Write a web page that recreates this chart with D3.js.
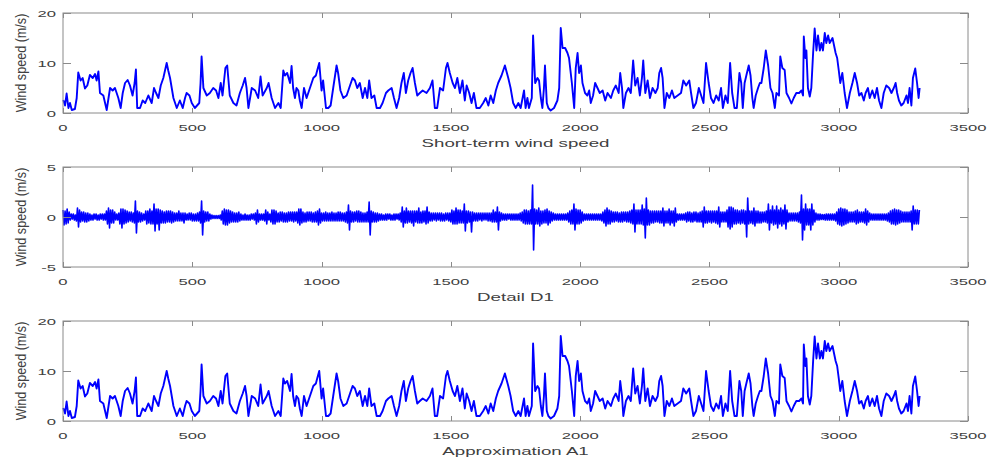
<!DOCTYPE html>
<html lang="en">
<head>
<meta charset="UTF-8">
<title>Short-term wind speed decomposition</title>
<script src="https://d3js.org/d3.v7.min.js"></script>
<style>
  body { margin: 0; background: #fff; font-family: "Liberation Sans", Arial, sans-serif; }
  svg { display: block; }
  .tick-label { font-size: 9.8px; fill: #404040; }
  .axis-title { font-size: 11px; fill: #404040; }
  .y-title { font-size: 12.6px; fill: #404040; }
</style>
</head>
<body>
<div id="chart"></div>
<script>
// ---- data ----
const xTicks = [0, 500, 1000, 1500, 2000, 2500, 3000, 3500];
const speedTicks = [0, 10, 20];
const detailTicks = [-5, 0, 5];

// short-term wind speed, [sample, m/s]
const windSpeed = [
  [1,2.6],[8,1.5],[14,3.9],[21,1.0],[27,2.0],[34,0.6],[46,0.8],[53,3.0],[59,8.1],[68,6.5],
  [76,7.0],[85,4.9],[94,5.5],[104,7.6],[115,7.0],[124,7.8],[130,6.5],[137,8.3],[143,4.0],[156,3.5],
  [169,0.6],[182,5.0],[192,4.5],[201,5.0],[214,3.0],[223,1.0],[231,4.0],[240,6.0],[250,6.6],[259,5.5],
  [269,3.5],[277,6.0],[282,8.7],[287,1.0],[298,1.0],[308,2.5],[318,2.0],[330,3.5],[343,2.0],[352,5.0],
  [360,4.0],[369,3.0],[378,5.5],[388,7.0],[401,10.0],[407,8.5],[414,7.0],[427,3.0],[440,1.0],[452,2.5],
  [463,1.0],[472,3.0],[478,4.0],[489,3.5],[498,2.0],[510,1.0],[527,2.0],[532,6.0],[536,11.3],[543,5.0],
  [556,3.5],[568,4.0],[581,5.0],[592,4.5],[601,3.0],[610,6.0],[617,3.5],[628,9.0],[635,9.5],[645,3.5],
  [659,2.0],[671,1.5],[684,4.0],[695,5.5],[704,7.0],[710,5.0],[717,1.0],[730,5.0],[743,4.5],[755,3.0],
  [764,7.3],[772,3.5],[788,5.0],[795,6.0],[807,3.0],[820,1.0],[833,2.0],[842,1.0],[852,8.5],[858,7.5],
  [867,8.0],[878,6.0],[884,9.4],[890,5.0],[897,3.0],[903,5.0],[910,4.5],[916,2.5],[923,1.0],[932,5.0],
  [942,3.0],[955,5.0],[968,7.0],[978,7.5],[983,8.5],[991,10.0],[1000,4.5],[1006,6.5],[1017,1.0],[1026,1.0],
  [1035,1.5],[1045,5.0],[1058,9.5],[1064,8.0],[1073,4.5],[1084,3.0],[1097,3.5],[1110,5.5],[1120,7.0],[1129,6.5],
  [1138,5.0],[1148,6.0],[1159,3.0],[1168,5.0],[1177,3.0],[1184,6.5],[1193,3.0],[1204,3.5],[1213,1.0],[1226,1.0],
  [1236,2.0],[1249,4.0],[1258,4.5],[1271,5.0],[1280,3.0],[1290,1.0],[1300,3.0],[1309,6.0],[1318,8.0],[1326,4.0],
  [1335,6.5],[1344,8.0],[1352,9.0],[1361,6.0],[1370,3.5],[1380,4.0],[1391,4.5],[1406,4.0],[1419,5.0],[1429,6.5],
  [1438,1.0],[1447,1.0],[1458,5.0],[1470,4.5],[1481,9.0],[1487,10.0],[1496,8.0],[1507,6.0],[1516,5.0],[1525,7.0],
  [1535,4.0],[1545,6.5],[1554,2.5],[1561,5.5],[1571,4.0],[1580,2.0],[1589,4.0],[1599,1.0],[1612,1.0],[1625,2.0],
  [1635,3.0],[1645,1.5],[1654,3.5],[1664,2.0],[1674,4.5],[1683,6.0],[1696,7.5],[1709,9.5],[1722,7.0],[1731,5.0],
  [1741,2.0],[1751,1.0],[1761,2.0],[1770,1.0],[1783,4.5],[1789,1.0],[1796,3.0],[1802,1.0],[1813,3.0],[1818,15.5],
  [1826,6.0],[1835,7.0],[1841,6.5],[1848,3.0],[1854,1.0],[1860,5.0],[1864,9.5],[1871,2.0],[1877,1.0],[1886,0.5],
  [1899,1.0],[1912,2.5],[1919,5.0],[1925,17.0],[1932,13.0],[1942,13.0],[1951,12.0],[1957,11.0],[1968,6.0],[1977,1.0],
  [1983,9.0],[1990,12.0],[1996,8.0],[2003,9.5],[2009,6.0],[2019,4.0],[2028,3.5],[2035,4.5],[2041,2.0],[2050,3.5],
  [2058,6.0],[2067,5.0],[2076,4.0],[2087,4.5],[2097,2.5],[2106,4.0],[2119,3.0],[2128,4.5],[2138,5.5],[2149,4.0],
  [2155,8.0],[2162,5.0],[2167,1.0],[2177,4.0],[2187,5.0],[2196,4.0],[2205,10.5],[2213,5.5],[2222,7.0],[2231,3.5],
  [2239,7.0],[2244,10.5],[2252,4.0],[2261,6.5],[2270,3.0],[2280,5.0],[2291,4.0],[2300,5.0],[2306,8.0],[2313,9.0],
  [2319,7.0],[2326,1.0],[2335,4.0],[2345,3.0],[2355,4.5],[2364,3.0],[2377,3.5],[2390,4.0],[2399,6.5],[2410,5.5],
  [2422,6.5],[2429,4.0],[2438,1.0],[2448,2.0],[2459,5.0],[2468,3.5],[2477,2.0],[2487,10.0],[2497,6.0],[2506,3.0],
  [2516,2.0],[2526,3.5],[2536,2.5],[2545,5.0],[2552,1.0],[2562,3.5],[2571,2.0],[2580,10.0],[2588,4.0],[2597,1.0],
  [2606,1.0],[2616,8.0],[2623,6.0],[2629,1.0],[2636,6.0],[2645,8.0],[2652,9.5],[2659,7.5],[2666,3.0],[2671,1.0],
  [2679,3.5],[2688,5.0],[2695,6.0],[2701,6.0],[2710,9.0],[2718,12.5],[2727,9.5],[2736,5.0],[2744,4.0],[2753,1.0],
  [2759,4.0],[2769,3.5],[2774,11.3],[2782,9.0],[2791,8.6],[2798,4.0],[2808,3.0],[2817,1.9],[2826,3.0],[2836,4.0],
  [2847,4.0],[2856,4.5],[2862,3.5],[2865,15.3],[2871,11.0],[2875,12.5],[2881,5.0],[2888,3.3],[2894,5.0],[2901,12.0],
  [2907,16.9],[2914,12.5],[2920,15.5],[2927,12.5],[2933,14.0],[2939,12.5],[2946,16.0],[2952,14.0],[2959,15.5],[2965,14.0],
  [2976,15.0],[2982,13.5],[2988,12.0],[2994,11.0],[3000,8.6],[3006,6.0],[3014,8.0],[3023,4.0],[3032,1.0],[3043,4.0],
  [3053,6.0],[3062,8.0],[3071,6.0],[3079,3.5],[3088,4.0],[3097,2.5],[3104,4.0],[3113,5.0],[3120,3.0],[3130,4.5],
  [3139,3.0],[3148,5.0],[3156,2.5],[3165,1.0],[3174,4.0],[3184,5.5],[3195,5.0],[3204,4.0],[3213,5.0],[3220,6.0],
  [3226,4.0],[3233,2.5],[3242,1.5],[3251,2.0],[3262,3.5],[3268,2.0],[3274,5.0],[3281,1.5],[3287,7.0],[3296,8.9],
  [3303,6.0],[3309,3.0],[3313,5.0]
];

// detail D1, one value every 4 samples (m/s), 80 samples per row
const d1Step = 4;
const detailD1 = [
  0.7,-0.8,0.6,-0.7,0.8,-0.6,0.5,-0.3,0.3,-0.2,0.3,-0.3,0.2,-0.4,0.9,-1.0,0.7,-0.5,0.5,-0.4,
  0.5,-0.5,0.4,-0.5,0.4,-0.4,0.3,-0.3,0.2,-0.3,0.3,-0.2,0.3,-0.3,0.2,-0.3,0.3,-0.2,0.3,-0.3,
  0.3,-0.3,0.6,-0.7,0.9,-1.1,0.7,-0.6,0.7,-0.6,0.5,-0.3,0.3,-0.3,0.4,-0.7,0.8,-1.1,0.8,-0.7,
  0.7,-0.6,0.6,-0.5,0.5,-0.4,0.5,-0.5,0.4,-0.6,1.6,-1.6,0.6,-0.5,0.5,-0.5,0.4,-0.4,0.3,-0.3,
  0.6,-0.7,0.6,-0.6,0.8,-0.7,0.6,-0.7,1.3,-1.4,0.8,-0.7,0.8,-1.3,0.7,-0.6,0.6,-0.6,0.5,-0.6,
  0.6,-0.5,0.6,-0.5,0.6,-0.6,0.5,-0.5,0.4,-0.4,0.4,-0.4,0.6,-0.4,0.4,-0.4,0.4,-0.6,0.4,-0.3,
  0.3,-0.3,0.4,-0.3,0.4,-0.4,0.3,-0.4,0.3,-0.4,0.4,-0.4,0.5,-0.6,1.6,-1.8,0.6,-0.5,0.5,-0.4,
  0.5,-0.4,0.3,-0.2,0.2,-0.15,0.15,-0.15,0.15,-0.15,0.15,-0.15,0.2,-0.3,0.6,-0.7,0.8,-0.8,0.7,-0.8,
  0.7,-0.6,0.6,-0.5,0.5,-0.5,0.4,-0.5,0.4,-0.5,0.5,-0.4,0.3,-0.3,0.2,-0.3,0.3,-0.3,0.2,-0.3,
  0.2,-0.3,0.3,-0.2,0.3,-0.3,0.4,-0.7,0.7,-0.5,0.3,-0.3,0.3,-0.3,0.3,-0.4,0.7,-0.7,0.5,-0.3,
  0.3,-0.5,0.7,-0.7,0.7,-0.7,0.6,-0.5,0.4,-0.5,0.5,-0.4,0.5,-0.5,0.4,-0.5,0.4,-0.5,0.5,-0.4,
  0.5,-0.4,0.5,-0.5,0.5,-0.4,0.5,-0.6,0.8,-0.8,0.8,-0.6,0.5,-0.5,0.4,-0.5,0.5,-0.4,0.5,-0.4,
  0.5,-0.5,0.4,-0.5,0.5,-0.5,0.6,-0.8,0.8,-0.6,0.4,-0.4,0.4,-0.4,0.5,-0.4,0.4,-0.4,0.4,-0.4,
  0.5,-0.4,0.4,-0.4,0.4,-0.4,0.5,-0.4,0.5,-0.4,0.4,-0.4,0.4,-0.5,0.5,-0.6,1.2,-1.3,0.6,-0.5,
  0.5,-0.5,0.5,-0.4,0.6,-0.5,0.6,-0.5,0.5,-0.5,0.4,-0.5,0.4,-0.5,0.5,-0.5,1.5,-1.8,0.6,-0.5,
  0.5,-0.5,0.4,-0.5,0.4,-0.4,0.3,-0.3,0.3,-0.3,0.2,-0.3,0.3,-0.3,0.3,-0.2,0.3,-0.3,0.2,-0.3,
  0.3,-0.3,0.3,-0.2,0.3,-0.3,0.4,-0.5,1.0,-1.0,0.6,-0.6,0.9,-0.6,0.6,-0.5,0.6,-0.6,0.6,-0.9,
  0.6,-0.5,0.6,-0.6,0.9,-0.6,0.5,-0.6,0.6,-0.5,0.6,-0.7,1.0,-0.6,0.5,-0.4,0.4,-0.4,0.4,-0.3,
  0.4,-0.4,0.4,-0.3,0.4,-0.4,0.4,-0.4,0.3,-0.4,0.4,-0.3,0.4,-0.4,0.4,-0.5,0.7,-0.7,0.6,-0.7,
  0.9,-0.7,0.7,-0.6,0.7,-0.6,0.6,-0.6,1.3,-1.4,0.6,-0.6,0.6,-0.5,0.5,-1.5,0.5,-0.4,0.4,-0.4,
  0.4,-0.4,0.4,-0.3,0.4,-0.4,0.4,-0.3,0.4,-0.3,0.4,-0.4,0.4,-0.4,0.4,-0.5,0.7,-0.5,0.5,-0.5,
  1.0,-1.3,0.5,-0.4,0.4,-0.3,0.3,-0.3,0.3,-0.3,0.3,-0.2,0.3,-0.3,0.3,-0.3,0.3,-0.3,0.3,-0.3,
  0.3,-0.3,0.4,-0.4,0.5,-0.6,0.7,-0.7,0.7,-0.7,0.6,-0.7,0.7,-0.7,3.2,-3.3,0.8,-0.7,0.7,-0.7,
  0.9,-0.9,0.6,-0.7,0.6,-0.6,0.7,-0.6,0.8,-0.8,0.6,-0.6,0.5,-0.4,0.4,-0.3,0.3,-0.3,0.3,-0.3,
  0.3,-0.3,0.3,-0.3,0.3,-0.3,0.3,-0.3,0.4,-0.5,0.6,-0.7,0.7,-0.7,1.3,-1.3,0.8,-0.7,0.7,-0.7,
  0.7,-0.6,0.5,-0.4,0.3,-0.3,0.3,-0.3,0.3,-0.3,0.3,-0.3,0.3,-0.3,0.3,-0.3,0.3,-0.3,0.3,-0.3,
  0.3,-0.4,0.5,-0.6,0.7,-0.9,0.9,-0.7,0.7,-0.7,0.6,-0.5,0.5,-0.5,0.5,-0.4,0.5,-0.5,0.4,-0.5,
  0.5,-0.5,0.5,-0.4,0.5,-0.5,0.5,-0.5,0.6,-0.6,0.7,-0.7,1.3,-1.5,0.7,-0.7,0.7,-0.7,0.7,-0.7,
  1.2,-0.8,0.8,-2.1,1.9,-0.8,0.7,-0.8,0.6,-0.6,0.6,-0.6,0.6,-0.5,0.6,-0.5,0.6,-0.6,0.6,-0.6,
  0.9,-0.9,0.6,-0.6,0.6,-0.6,0.8,-0.8,0.6,-0.6,0.6,-0.9,0.9,-0.5,0.3,-0.3,0.3,-0.3,0.3,-0.3,
  0.3,-0.3,0.4,-0.5,0.5,-0.4,0.5,-0.5,0.4,-0.5,0.5,-0.4,0.5,-0.5,0.4,-0.5,0.5,-0.5,0.6,-1.0,
  1.0,-0.6,0.6,-0.6,0.6,-0.5,0.6,-0.6,0.6,-0.5,0.6,-0.6,0.6,-0.7,1.0,-1.0,0.5,-0.5,0.5,-0.5,
  0.5,-0.5,0.7,-1.0,1.0,-1.2,1.0,-1.0,0.9,-0.7,0.7,-0.7,0.7,-0.6,0.6,-0.7,0.7,-0.6,0.7,-0.7,
  0.6,-2.0,1.9,-0.7,0.6,-0.6,0.6,-0.7,0.9,-0.9,0.6,-0.6,0.6,-0.6,0.5,-0.6,0.5,-0.5,0.5,-0.5,
  0.6,-0.6,1.3,-1.3,0.7,-0.6,1.1,-0.8,0.7,-0.7,1.1,-1.1,0.7,-0.7,0.9,-0.9,0.7,-0.7,1.2,-1.2,
  0.7,-0.5,0.4,-0.4,0.4,-0.4,0.4,-0.4,0.4,-0.4,0.4,-0.5,0.5,-0.6,2.2,-2.3,0.8,-1.3,1.3,-0.8,
  0.8,-0.8,0.8,-1.3,1.3,-0.8,0.7,-0.5,0.4,-0.3,0.3,-0.3,0.3,-0.25,0.25,-0.25,0.25,-0.3,0.3,-0.3,
  0.3,-0.3,0.3,-0.3,0.3,-0.3,0.3,-0.4,0.5,-0.7,0.8,-0.8,0.9,-0.9,0.8,-0.8,0.8,-0.7,0.7,-0.6,
  0.5,-0.5,0.5,-0.5,0.5,-0.5,0.6,-0.7,0.7,-0.6,0.5,-0.5,0.5,-0.5,0.5,-0.6,0.8,-0.8,0.6,-0.5,
  0.4,-0.3,0.3,-0.3,0.3,-0.3,0.3,-0.3,0.3,-0.3,0.3,-0.3,0.3,-0.3,0.3,-0.3,0.3,-0.4,0.4,-0.5,
  0.6,-0.7,0.7,-0.7,0.8,-0.8,0.7,-0.7,0.7,-0.6,0.6,-0.5,0.5,-0.5,0.5,-0.5,0.5,-0.5,0.5,-0.5,
  0.6,-1.3,1.1,-0.7,0.7,-0.7,0.7,-0.7,0.7
];

// approximation A1, [sample, m/s]
const approxA1 = [
  [1,2.6],[8,1.5],[14,3.9],[21,1.0],[27,2.0],[34,0.6],[46,0.8],[53,3.0],[59,8.1],[68,6.5],
  [76,7.0],[85,4.9],[94,5.5],[104,7.6],[115,7.0],[124,7.8],[130,6.5],[137,8.3],[143,4.0],[156,3.5],
  [169,0.6],[182,5.0],[192,4.5],[201,5.0],[214,3.0],[223,1.0],[231,4.0],[240,6.0],[250,6.6],[259,5.5],
  [269,3.5],[277,6.0],[282,8.7],[287,1.0],[298,1.0],[308,2.5],[318,2.0],[330,3.5],[343,2.0],[352,5.0],
  [360,4.0],[369,3.0],[378,5.5],[388,7.0],[401,10.0],[407,8.5],[414,7.0],[427,3.0],[440,1.0],[452,2.5],
  [463,1.0],[472,3.0],[478,4.0],[489,3.5],[498,2.0],[510,1.0],[527,2.0],[532,6.0],[536,11.3],[543,5.0],
  [556,3.5],[568,4.0],[581,5.0],[592,4.5],[601,3.0],[610,6.0],[617,3.5],[628,9.0],[635,9.5],[645,3.5],
  [659,2.0],[671,1.5],[684,4.0],[695,5.5],[704,7.0],[710,5.0],[717,1.0],[730,5.0],[743,4.5],[755,3.0],
  [764,7.3],[772,3.5],[788,5.0],[795,6.0],[807,3.0],[820,1.0],[833,2.0],[842,1.0],[852,8.5],[858,7.5],
  [867,8.0],[878,6.0],[884,9.4],[890,5.0],[897,3.0],[903,5.0],[910,4.5],[916,2.5],[923,1.0],[932,5.0],
  [942,3.0],[955,5.0],[968,7.0],[978,7.5],[983,8.5],[991,10.0],[1000,4.5],[1006,6.5],[1017,1.0],[1026,1.0],
  [1035,1.5],[1045,5.0],[1058,9.5],[1064,8.0],[1073,4.5],[1084,3.0],[1097,3.5],[1110,5.5],[1120,7.0],[1129,6.5],
  [1138,5.0],[1148,6.0],[1159,3.0],[1168,5.0],[1177,3.0],[1184,6.5],[1193,3.0],[1204,3.5],[1213,1.0],[1226,1.0],
  [1236,2.0],[1249,4.0],[1258,4.5],[1271,5.0],[1280,3.0],[1290,1.0],[1300,3.0],[1309,6.0],[1318,8.0],[1326,4.0],
  [1335,6.5],[1344,8.0],[1352,9.0],[1361,6.0],[1370,3.5],[1380,4.0],[1391,4.5],[1406,4.0],[1419,5.0],[1429,6.5],
  [1438,1.0],[1447,1.0],[1458,5.0],[1470,4.5],[1481,9.0],[1487,10.0],[1496,8.0],[1507,6.0],[1516,5.0],[1525,7.0],
  [1535,4.0],[1545,6.5],[1554,2.5],[1561,5.5],[1571,4.0],[1580,2.0],[1589,4.0],[1599,1.0],[1612,1.0],[1625,2.0],
  [1635,3.0],[1645,1.5],[1654,3.5],[1664,2.0],[1674,4.5],[1683,6.0],[1696,7.5],[1709,9.5],[1722,7.0],[1731,5.0],
  [1741,2.0],[1751,1.0],[1761,2.0],[1770,1.0],[1783,4.5],[1789,1.0],[1796,3.0],[1802,1.0],[1813,3.0],[1818,15.5],
  [1826,6.0],[1835,7.0],[1841,6.5],[1848,3.0],[1854,1.0],[1860,5.0],[1864,9.5],[1871,2.0],[1877,1.0],[1886,0.5],
  [1899,1.0],[1912,2.5],[1919,5.0],[1925,17.0],[1932,13.0],[1942,13.0],[1951,12.0],[1957,11.0],[1968,6.0],[1977,1.0],
  [1983,9.0],[1990,12.0],[1996,8.0],[2003,9.5],[2009,6.0],[2019,4.0],[2028,3.5],[2035,4.5],[2041,2.0],[2050,3.5],
  [2058,6.0],[2067,5.0],[2076,4.0],[2087,4.5],[2097,2.5],[2106,4.0],[2119,3.0],[2128,4.5],[2138,5.5],[2149,4.0],
  [2155,8.0],[2162,5.0],[2167,1.0],[2177,4.0],[2187,5.0],[2196,4.0],[2205,10.5],[2213,5.5],[2222,7.0],[2231,3.5],
  [2239,7.0],[2244,10.5],[2252,4.0],[2261,6.5],[2270,3.0],[2280,5.0],[2291,4.0],[2300,5.0],[2306,8.0],[2313,9.0],
  [2319,7.0],[2326,1.0],[2335,4.0],[2345,3.0],[2355,4.5],[2364,3.0],[2377,3.5],[2390,4.0],[2399,6.5],[2410,5.5],
  [2422,6.5],[2429,4.0],[2438,1.0],[2448,2.0],[2459,5.0],[2468,3.5],[2477,2.0],[2487,10.0],[2497,6.0],[2506,3.0],
  [2516,2.0],[2526,3.5],[2536,2.5],[2545,5.0],[2552,1.0],[2562,3.5],[2571,2.0],[2580,10.0],[2588,4.0],[2597,1.0],
  [2606,1.0],[2616,8.0],[2623,6.0],[2629,1.0],[2636,6.0],[2645,8.0],[2652,9.5],[2659,7.5],[2666,3.0],[2671,1.0],
  [2679,3.5],[2688,5.0],[2695,6.0],[2701,6.0],[2710,9.0],[2718,12.5],[2727,9.5],[2736,5.0],[2744,4.0],[2753,1.0],
  [2759,4.0],[2769,3.5],[2774,11.3],[2782,9.0],[2791,8.6],[2798,4.0],[2808,3.0],[2817,1.9],[2826,3.0],[2836,4.0],
  [2847,4.0],[2856,4.5],[2862,3.5],[2865,15.3],[2871,11.0],[2875,12.5],[2881,5.0],[2888,3.3],[2894,5.0],[2901,12.0],
  [2907,16.9],[2914,12.5],[2920,15.5],[2927,12.5],[2933,14.0],[2939,12.5],[2946,16.0],[2952,14.0],[2959,15.5],[2965,14.0],
  [2976,15.0],[2982,13.5],[2988,12.0],[2994,11.0],[3000,8.6],[3006,6.0],[3014,8.0],[3023,4.0],[3032,1.0],[3043,4.0],
  [3053,6.0],[3062,8.0],[3071,6.0],[3079,3.5],[3088,4.0],[3097,2.5],[3104,4.0],[3113,5.0],[3120,3.0],[3130,4.5],
  [3139,3.0],[3148,5.0],[3156,2.5],[3165,1.0],[3174,4.0],[3184,5.5],[3195,5.0],[3204,4.0],[3213,5.0],[3220,6.0],
  [3226,4.0],[3233,2.5],[3242,1.5],[3251,2.0],[3262,3.5],[3268,2.0],[3274,5.0],[3281,1.5],[3287,7.0],[3296,8.9],
  [3303,6.0],[3309,3.0],[3313,5.0]
];

// ---- layout ----
const W = 999, H = 461;
const plotLeft = 63, plotRight = 968, plotH = 100;
const textStretch = 1.7;   // the figure is stretched sideways

const panels = [
  { top: 13,  yDomain: [0, 20], yTicks: speedTicks,  title: "Short-term wind speed", data: windSpeed, width: 1.9 },
  { top: 167, yDomain: [-5, 5], yTicks: detailTicks, title: "Detail D1",             data: detailD1.map((v, i) => [i * d1Step, v]), width: 1.6 },
  { top: 321, yDomain: [0, 20], yTicks: speedTicks,  title: "Approximation A1",      data: approxA1, width: 1.9 }
];

const svg = d3.select("#chart").append("svg")
    .attr("width", W)
    .attr("height", H);

const x = d3.scaleLinear().domain([0, 3500]).range([plotLeft, plotRight]);

function wideText(g, px, py, txt, anchor, cls) {
    g.append("text")
        .attr("class", cls)
        .attr("transform", `translate(${px},${py}) scale(${textStretch},1)`)
        .attr("text-anchor", anchor)
        .text(txt);
}

panels.forEach(p => {
    const bottom = p.top + plotH;
    const y = d3.scaleLinear().domain(p.yDomain).range([bottom, p.top]);
    const g = svg.append("g");

    // the series
    g.append("path")
        .datum(p.data)
        .attr("fill", "none")
        .attr("stroke", "#0000ff")
        .attr("stroke-width", p.width)
        .attr("stroke-linejoin", "round")
        .attr("d", d3.line().x(d => x(d[0])).y(d => y(d[1])));

    // box
    g.append("rect")
        .attr("x", plotLeft).attr("y", p.top)
        .attr("width", plotRight - plotLeft).attr("height", plotH)
        .attr("fill", "none")
        .attr("stroke", "#8a8a8a")
        .attr("stroke-width", 1);

    // x ticks (inside, top and bottom)
    xTicks.forEach(t => {
        const xp = Math.round(x(t)) + 0.5;
        g.append("line").attr("x1", xp).attr("x2", xp).attr("y1", bottom).attr("y2", bottom - 5)
            .attr("stroke", "#8a8a8a");
        g.append("line").attr("x1", xp).attr("x2", xp).attr("y1", p.top).attr("y2", p.top + 5)
            .attr("stroke", "#8a8a8a");
        wideText(g, x(t), bottom + 18, t, "middle", "tick-label");
    });

    // y ticks (inside, left and right)
    p.yTicks.forEach(t => {
        const yp = Math.round(y(t)) + 0.5;
        g.append("line").attr("x1", plotLeft).attr("x2", plotLeft + 8).attr("y1", yp).attr("y2", yp)
            .attr("stroke", "#8a8a8a");
        g.append("line").attr("x1", plotRight).attr("x2", plotRight - 8).attr("y1", yp).attr("y2", yp)
            .attr("stroke", "#8a8a8a");
        wideText(g, 56, y(t) + 3.5, t, "end", "tick-label");
    });

    // titles
    wideText(g, (plotLeft + plotRight) / 2, bottom + 34, p.title, "middle", "axis-title");
    g.append("text")
        .attr("class", "y-title")
        .attr("transform", `translate(${26},${p.top + plotH / 2}) scale(1.1,1) rotate(-90)`)
        .attr("text-anchor", "middle")
        .text("Wind speed (m/s)");
});
</script>
</body>
</html>
